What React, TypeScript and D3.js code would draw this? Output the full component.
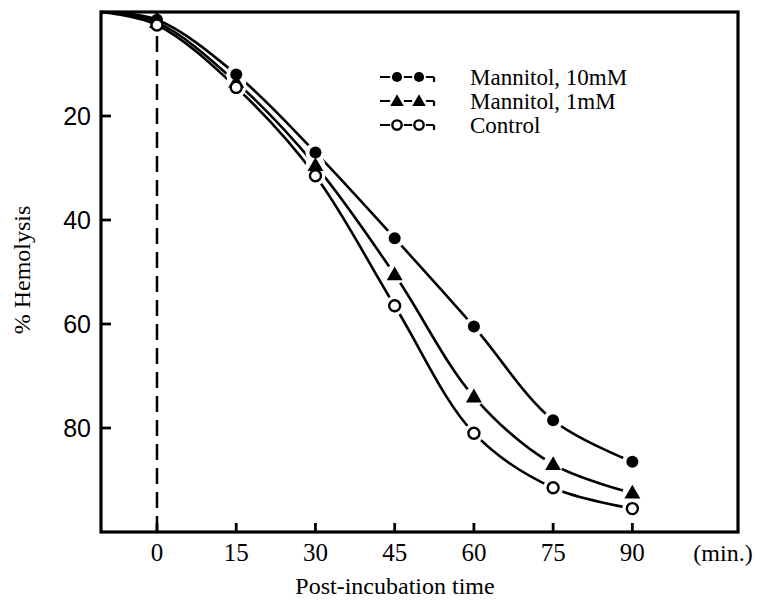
import React from 'react';
import * as d3 from 'd3';

const times = [0, 15, 30, 45, 60, 75, 90];
const mannitol10 = [1.5, 12, 27, 43.5, 60.5, 78.5, 86.5];
const mannitol1 = [2, 13.5, 29.5, 50.5, 74, 87, 92.5];
const control = [2.5, 14.5, 31.5, 56.5, 81, 91.5, 95.5];
const startPoint = { t: -10.6, v: 0 };
const xTicks = [0, 15, 30, 45, 60, 75, 90];
const yTicks = [20, 40, 60, 80];
const legendLabels = ['Mannitol, 10mM', 'Mannitol, 1mM', 'Control'];

const W = 764;
const H = 608;
const serif = '"Liberation Serif", "Times New Roman", serif';
const sans = '"Liberation Sans", Arial, sans-serif';

const x = d3.scaleLinear().domain([-10.6, 110]).range([101, 738]);
const y = d3.scaleLinear().domain([0, 100]).range([12, 532]);

type Kind = 'filled' | 'triangle' | 'open';

const series: { name: string; values: number[]; kind: Kind }[] = [
  { name: legendLabels[0], values: mannitol10, kind: 'filled' },
  { name: legendLabels[1], values: mannitol1, kind: 'triangle' },
  { name: legendLabels[2], values: control, kind: 'open' },
];

const Marker = ({ cx, cy, kind, s = 1 }: { cx: number; cy: number; kind: Kind; s?: number }) => {
  if (kind === 'filled') return <circle cx={cx} cy={cy} r={6 * s} fill="#000" />;
  if (kind === 'open')
    return <circle cx={cx} cy={cy} r={5.5 * s} fill="#fff" stroke="#000" strokeWidth={2.4} />;
  const tri = d3.symbol().type(d3.symbolTriangle).size(110 * s * s)();
  return <path d={tri || ''} transform={`translate(${cx},${cy + 1})`} fill="#000" />;
};

export default function App() {
  const line = d3
    .line<[number, number]>()
    .x((d) => x(d[0]))
    .y((d) => y(d[1]))
    .curve(d3.curveCatmullRom.alpha(0.5));

  const legendX = 380;
  const legendY = [77, 101, 125];

  return (
    <svg
      width={W}
      height={H}
      style={{ position: 'absolute', left: 0, top: 0, background: '#fff' }}
    >
      <rect width={W} height={H} fill="#fff" />

      {/* dashed line at t = 0 */}
      <line
        x1={x(0)}
        x2={x(0)}
        y1={y(0)}
        y2={y(100)}
        stroke="#000"
        strokeWidth={2.5}
        strokeDasharray="16 8"
      />

      {/* curves */}
      {series.map((s) => {
        const pts: [number, number][] = [
          [startPoint.t, startPoint.v],
          ...times.map((t, i) => [t, s.values[i]] as [number, number]),
        ];
        return (
          <path key={s.name} d={line(pts) || ''} fill="none" stroke="#000" strokeWidth={2.6} />
        );
      })}

      {/* gaps around markers */}
      {series.map((s) =>
        times.slice(1).map((t, i) => (
          <circle key={s.name + t} cx={x(t)} cy={y(s.values[i + 1])} r={10} fill="#fff" />
        ))
      )}
      {series.map((s) =>
        times.map((t, i) => (
          <Marker key={s.name + 'm' + t} cx={x(t)} cy={y(s.values[i])} kind={s.kind} />
        ))
      )}

      {/* frame */}
      <rect
        x={x(-10.6)}
        y={y(0)}
        width={x(110) - x(-10.6)}
        height={y(100) - y(0)}
        fill="none"
        stroke="#000"
        strokeWidth={3.2}
      />

      {/* y ticks */}
      {yTicks.map((v) => (
        <g key={v}>
          <line x1={x(-10.6)} x2={x(-10.6) + 10} y1={y(v)} y2={y(v)} stroke="#000" strokeWidth={2.8} />
          <text
            x={x(-10.6) - 10}
            y={y(v)}
            dy="0.36em"
            textAnchor="end"
            fontFamily={sans}
            fontSize={25}
          >
            {v}
          </text>
        </g>
      ))}

      {/* x ticks */}
      {xTicks.map((t) => (
        <g key={t}>
          <line x1={x(t)} x2={x(t)} y1={y(100)} y2={y(100) - 9} stroke="#000" strokeWidth={2.8} />
          <text
            x={x(t)}
            y={y(100) + 29}
            textAnchor="middle"
            fontFamily={serif}
            fontSize={25}
          >
            {t}
          </text>
        </g>
      ))}
      <text x={723} y={y(100) + 29} textAnchor="middle" fontFamily={serif} fontSize={24}>
        (min.)
      </text>

      {/* axis titles */}
      <text x={395} y={594} textAnchor="middle" fontFamily={serif} fontSize={24}>
        Post-incubation time
      </text>
      <text
        transform={`translate(30,${270}) rotate(-90)`}
        textAnchor="middle"
        fontFamily={serif}
        fontSize={24}
      >
        % Hemolysis
      </text>

      {/* legend */}
      {series.map((s, i) => {
        const ly = legendY[i];
        return (
          <g key={s.name}>
            <line x1={legendX} x2={legendX + 54} y1={ly} y2={ly} stroke="#000" strokeWidth={2.2} />
            <line x1={legendX + 54} x2={legendX + 54} y1={ly} y2={ly + 5} stroke="#000" strokeWidth={2.2} />
            <circle cx={legendX + 17} cy={ly} r={7} fill="#fff" />
            <circle cx={legendX + 39} cy={ly} r={7} fill="#fff" />
            <Marker cx={legendX + 17} cy={ly} kind={s.kind} s={0.85} />
            <Marker cx={legendX + 39} cy={ly} kind={s.kind} s={0.85} />
            <text x={legendX + 90} y={ly} dy="0.35em" fontFamily={serif} fontSize={23}>
              {s.name}
            </text>
          </g>
        );
      })}
    </svg>
  );
}
